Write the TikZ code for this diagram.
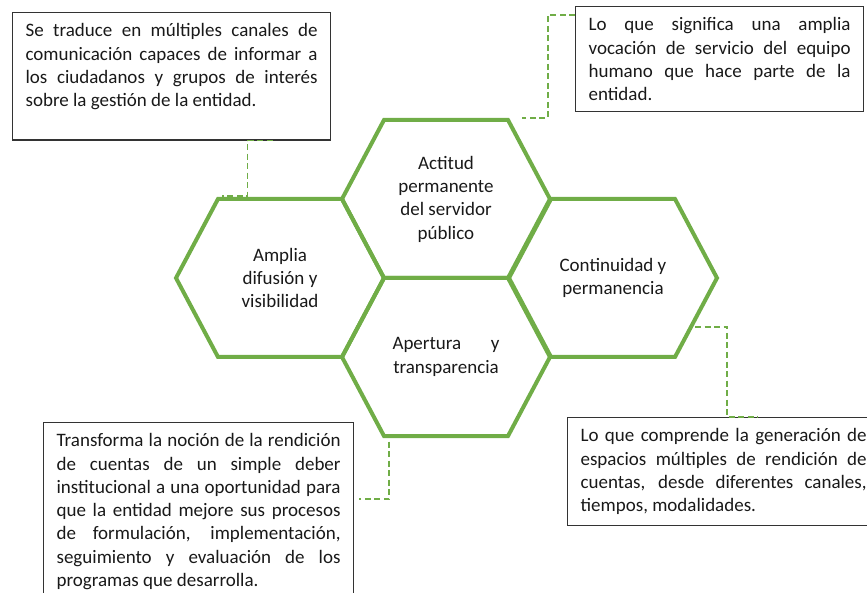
\documentclass[tikz,border=0pt]{standalone}
\usepackage{fontspec}
\setmainfont{Carlito}
\usepackage{xcolor}
\definecolor{cellgreen}{HTML}{70AD47}
\tolerance=10000
\hbadness=10000
\hyphenpenalty=10000

\begin{document}
\begin{tikzpicture}[x=1pt, y=-1pt,
          every node/.style={font=\fontsize{19}{23.3}\selectfont, text=black!90},
          cell/.style={draw=cellgreen, line width=4pt},
          celltext/.style={align=center, inner sep=0pt},
          note/.style={draw=black!80, line width=1.2pt, anchor=north west, align=justify, inner xsep=13pt, inner ysep=11pt},
          link/.style={draw=cellgreen, line width=1.4pt, dash pattern=on 6pt off 3.5pt}
        ]
          \useasboundingbox (0,0) rectangle (867,593);
          \clip (0,0) rectangle (867,593);

          % Hexagon labels
          \node[celltext] (actitud) at (446,199) {Actitud\\permanente\\del servidor\\público};
          \node[celltext] (amplia) at (280,278) {Amplia\\difusión y\\visibilidad};
          \node[celltext] (continuidad) at (613,278) {Continuidad y\\permanencia};
          \node[celltext, text width=107pt] (apertura) at (446,357) {Apertura\hfill y\\transparencia};

          % Hexagon outlines round the labels
          \foreach \c in {actitud, amplia, continuidad, apertura}
            \draw[cell] ([xshift=-104pt]\c.center) -- ++(42,-79) -- ++(124,0) -- ++(42,79) -- ++(-42,79) -- ++(-124,0) -- cycle;

          % Notes
          \node[note, text width=292pt] (difusion-note) at (12,12) {Se traduce en múltiples canales de\linebreak comunicación capaces de informar a\linebreak los ciudadanos y grupos de interés\linebreak sobre la gestión de la entidad.\par\vspace{19pt}};
          \node[note, text width=262pt] (vocacion-note) at (575,6) {Lo que significa una amplia\linebreak vocación de servicio del equipo\linebreak humano que hace parte de la\linebreak entidad.};
          \node[note, text width=284pt] (rendicion-note) at (43,422) {Transforma la noción de la rendición\linebreak de cuentas de un simple deber\linebreak institucional a una oportunidad para\linebreak que la entidad mejore sus procesos\linebreak de formulación, implementación,\linebreak seguimiento y evaluación de los\linebreak programas que desarrolla.};
          \node[note, text width=286pt] (espacios-note) at (567,417) {Lo que comprende la generación de\linebreak espacios múltiples de rendición de\linebreak cuentas, desde diferentes canales,\linebreak tiempos, modalidades.};

          % Dashed elbow links
          \coordinate (amplia-in) at (222,196);
          \coordinate (actitud-in) at (522,118);
          \coordinate (continuidad-out) at (695,327);
          \coordinate (apertura-out) at (430,435);

          \draw[link] ([xshift=101pt]difusion-note.south) -- ++(-25,0) |- (amplia-in);
          \draw[link] ([yshift=-9pt]vocacion-note.north west) -- ++(-27,0) |- (actitud-in);
          \draw[link] (continuidad-out) -| ([xshift=160pt]espacios-note.north west) -- ++(31,0);
          \draw[link] (apertura-out) -- ++(-41,0) |- ([xshift=5pt, yshift=-77pt]rendicion-note.north east);

        \end{tikzpicture}
\end{document}
